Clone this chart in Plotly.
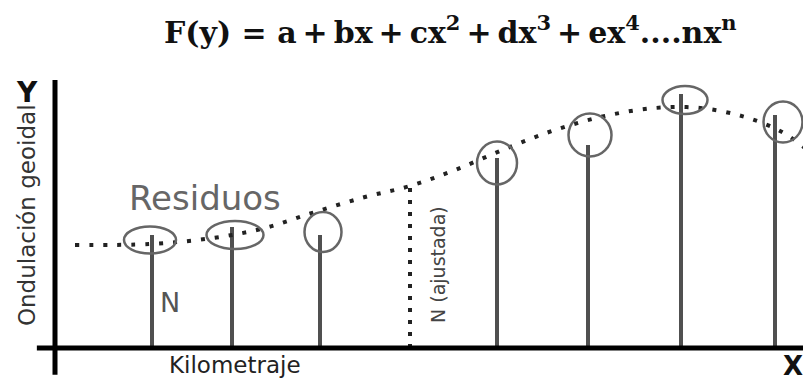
import plotly.graph_objects as go

# ---- data ----
station_km = [9.7, 17.7, 26.5, 44.2, 53.3, 62.6, 72.0]
N_observed = [11.3, 12.1, 11.3, 19.0, 20.3, 25.4, 23.3]

fit_x = [2.0, 9.5, 15.8, 21.0, 26.0, 31.0, 35.5, 40.0, 45.0, 50.0, 55.0, 60.0, 64.5, 69.0, 72.7, 75.5, 77.0]
fit_y = [10.3, 10.4, 11.0, 12.0, 13.6, 15.1, 16.2, 17.8, 19.9, 21.8, 23.2, 24.0, 24.0, 23.1, 21.6, 19.6, 18.3]

adj_x = 35.5
adj_N = 16.2

resid_cx = [9.5, 18.0, 26.8, 44.2, 53.5, 63.0, 72.8]
resid_cy = [10.8, 11.3, 11.6, 18.5, 21.3, 24.8, 22.6]
resid_w = [5.2, 5.7, 3.7, 4.0, 4.3, 4.5, 3.9]
resid_h = [2.7, 2.8, 4.0, 4.3, 4.3, 2.8, 4.1]

TS = "\u2009"
title_text = ("<b>F(y) = a" + TS + "+" + TS + "bx" + TS + "+" + TS + "cx<sup>2</sup>" + TS + "+" + TS +
              "dx<sup>3</sup>" + TS + "+" + TS + "ex<sup>4</sup>....nx<sup>n</sup></b>")

SANS = "'DejaVu Sans', sans-serif"

fig = go.Figure()

# stems (observed N)
fig.add_trace(go.Bar(x=station_km, y=N_observed, width=0.42,
                     marker=dict(color="#505050", line=dict(width=0)),
                     hoverinfo="skip"))

# fitted curve (dotted)
fig.add_trace(go.Scatter(x=fit_x, y=fit_y, mode="lines",
                         line=dict(shape="spline", smoothing=1.0, color="#222222",
                                   width=4, dash="4px,10px"),
                         hoverinfo="skip"))

# N (ajustada) dotted vertical
fig.add_trace(go.Scatter(x=[adj_x, adj_x], y=[0, adj_N], mode="lines",
                         line=dict(color="#222222", width=4, dash="4px,8px"),
                         hoverinfo="skip"))

shapes = []
for cx, cy, w, h in zip(resid_cx, resid_cy, resid_w, resid_h):
    shapes.append(dict(type="circle", xref="x", yref="y",
                       x0=cx - w / 2, x1=cx + w / 2, y0=cy - h / 2, y1=cy + h / 2,
                       line=dict(color="#666666", width=2.5)))

# axes drawn as hand-like lines
shapes.append(dict(type="line", xref="paper", yref="paper", x0=0, x1=0, y0=-0.1, y1=1.0,
                   line=dict(color="black", width=5)))
shapes.append(dict(type="line", xref="paper", yref="paper", x0=-0.024, x1=1.0, y0=0, y1=0,
                   line=dict(color="black", width=5)))

annotations = [
    dict(text=title_text, xref="paper", yref="paper", x=0.5225, y=1.185,
         xanchor="center", yanchor="middle", showarrow=False,
         font=dict(family="'DejaVu Serif', serif", size=30, color="#111111")),
    dict(text="<b>Y</b>", xref="paper", yref="paper", x=-0.037, y=0.955,
         xanchor="center", yanchor="middle", showarrow=False,
         font=dict(family=SANS, size=28, color="#111111")),
    dict(text="<b>X</b>", xref="paper", yref="paper", x=0.976, y=-0.068,
         xanchor="center", yanchor="middle", showarrow=False,
         font=dict(family=SANS, size=26, color="#111111")),
    dict(text="Ondulación geoidal", xref="paper", yref="paper", x=-0.037, y=0.496,
         xanchor="center", yanchor="middle", showarrow=False, textangle=-90,
         font=dict(family=SANS, size=23, color="#333333")),
    dict(text="Kilometraje", xref="paper", yref="paper", x=0.238, y=-0.063,
         xanchor="center", yanchor="middle", showarrow=False,
         font=dict(family=SANS, size=23, color="#222222")),
    dict(text="Residuos", xref="x", yref="y", x=15.0, y=15.0,
         xanchor="center", yanchor="middle", showarrow=False,
         font=dict(family=SANS, size=34, color="#666666")),
    dict(text="N", xref="x", yref="y", x=11.5, y=4.6,
         xanchor="center", yanchor="middle", showarrow=False,
         font=dict(family=SANS, size=27, color="#555555")),
    dict(text="N (ajustada)", xref="x", yref="y", x=38.3, y=8.3,
         xanchor="center", yanchor="middle", showarrow=False, textangle=-90,
         font=dict(family=SANS, size=19, color="#444444")),
]

# page body has an 8px margin: figure is sized so the plot area lands on the reference pixels
fig.update_layout(
    width=803, height=373,
    margin=dict(l=47, r=0, t=72, b=33),
    paper_bgcolor="white", plot_bgcolor="white",
    showlegend=False,
    xaxis=dict(range=[0, 75.6], visible=False, fixedrange=True),
    yaxis=dict(range=[0, 26.8], visible=False, fixedrange=True),
    shapes=shapes, annotations=annotations,
    bargap=0,
)

fig.write_html("out.html")
